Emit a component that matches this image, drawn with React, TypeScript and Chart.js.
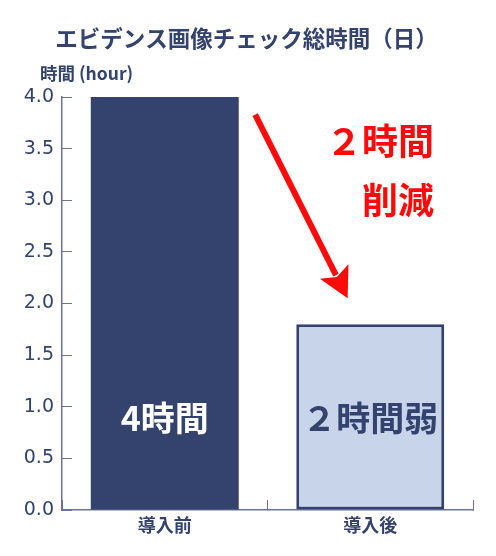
import { useEffect, useRef } from 'react'
import { Chart, registerables } from 'chart.js'
import type { Plugin } from 'chart.js'

Chart.register(...registerables)

const categories = ['導入前', '導入後']
const hours = [4.0, 1.8]
const barTexts = ['4時間', '２時間弱']
const reductionLines = ['２時間', '削減']

const NAVY = '#34436e'
const LIGHT = '#c8d4ea'
const AXIS = '#6a7498'
const RED = '#ff0a0a'
const FONT = '"Noto Sans CJK JP", "Noto Sans", sans-serif'
const NUM_FONT = '"DejaVu Sans", sans-serif'

// annotation anchors, in category index / value units
const barTextValue = 0.89
const arrowFrom = { x: 0.44, y: 3.83 }
const arrowTo = { x: 0.89, y: 2.05 }
const noteX = 1.31
const noteValues = [3.57, 3.0]

const overlay: Plugin<'bar'> = {
  id: 'overlay',
  afterDatasetsDraw(chart) {
    const { ctx, scales, chartArea } = chart
    const xs = scales.x
    const ys = scales.y
    const meta = chart.getDatasetMeta(0)
    ctx.save()

    // values written inside the bars
    ctx.font = `bold 34px ${FONT}`
    ctx.textAlign = 'center'
    ctx.textBaseline = 'middle'
    meta.data.forEach((bar, i) => {
      ctx.fillStyle = i === 0 ? '#ffffff' : NAVY
      ctx.fillText(barTexts[i], bar.x, ys.getPixelForValue(barTextValue))
    })

    // unit label above the y axis
    ctx.font = `bold 17.5px ${FONT}`
    ctx.fillStyle = NAVY
    ctx.textAlign = 'left'
    ctx.fillText('時間 (hour)', chartArea.left - 22, chartArea.top - 24)

    // red arrow
    const x1 = xs.getPixelForValue(arrowFrom.x)
    const y1 = ys.getPixelForValue(arrowFrom.y)
    const x2 = xs.getPixelForValue(arrowTo.x)
    const y2 = ys.getPixelForValue(arrowTo.y)
    const ang = Math.atan2(y2 - y1, x2 - x1)
    const head = 30
    const half = 16
    const bx = x2 - head * Math.cos(ang)
    const by = y2 - head * Math.sin(ang)
    ctx.strokeStyle = RED
    ctx.fillStyle = RED
    ctx.lineWidth = 6
    ctx.beginPath()
    ctx.moveTo(x1, y1)
    ctx.lineTo(bx + 4 * Math.cos(ang), by + 4 * Math.sin(ang))
    ctx.stroke()
    ctx.beginPath()
    ctx.moveTo(x2, y2)
    ctx.lineTo(bx - half * Math.sin(ang), by + half * Math.cos(ang))
    ctx.lineTo(bx + 6 * Math.cos(ang), by + 6 * Math.sin(ang))
    ctx.lineTo(bx + half * Math.sin(ang), by - half * Math.cos(ang))
    ctx.closePath()
    ctx.fill()

    // reduction note
    ctx.font = `bold 36px ${FONT}`
    ctx.textAlign = 'right'
    reductionLines.forEach((t, i) => {
      ctx.fillText(t, xs.getPixelForValue(noteX), ys.getPixelForValue(noteValues[i]))
    })
    ctx.restore()
  },
}

export default function App() {
  const canvasRef = useRef<HTMLCanvasElement>(null)

  useEffect(() => {
    if (!canvasRef.current) return
    const chart = new Chart(canvasRef.current, {
      type: 'bar',
      data: {
        labels: categories,
        datasets: [
          {
            data: hours,
            backgroundColor: [NAVY, LIGHT],
            borderColor: NAVY,
            borderWidth: [0, 3],
            borderSkipped: false,
            barPercentage: 0.72,
            categoryPercentage: 1,
          },
        ],
      },
      options: {
        animation: false,
        responsive: true,
        maintainAspectRatio: false,
        layout: { padding: { left: 20, right: 23, top: 0, bottom: 0 } },
        plugins: {
          legend: { display: false },
          tooltip: { enabled: false },
          title: {
            display: true,
            text: 'エビデンス画像チェック総時間（日）',
            color: NAVY,
            font: { family: FONT, size: 22.5, weight: 'bold' },
            padding: { top: 25, bottom: 45 },
          },
        },
        scales: {
          x: {
            afterFit: (s) => { s.height = 46 },
            grid: { drawOnChartArea: false, drawTicks: true, tickLength: -10, color: AXIS },
            border: { color: AXIS, width: 1.5 },
            ticks: {
              color: NAVY,
              padding: 14,
              font: { family: FONT, size: 18, weight: 'bold' },
            },
          },
          y: {
            min: 0,
            max: 4,
            afterFit: (s) => { s.width = 42 },
            grid: { drawOnChartArea: false, drawTicks: true, tickLength: -10, color: AXIS },
            border: { color: AXIS, width: 1.5 },
            ticks: {
              stepSize: 0.5,
              color: NAVY,
              padding: 18,
              font: { family: NUM_FONT, size: 19 },
              callback: (v) => Number(v).toFixed(1),
            },
          },
        },
      },
      plugins: [overlay],
    })
    return () => { chart.destroy() }
  }, [])

  return (
    <div style={{ position: 'fixed', left: 0, top: 0, width: 496, height: 556, background: '#fff' }}>
      <canvas ref={canvasRef} />
    </div>
  )
}
